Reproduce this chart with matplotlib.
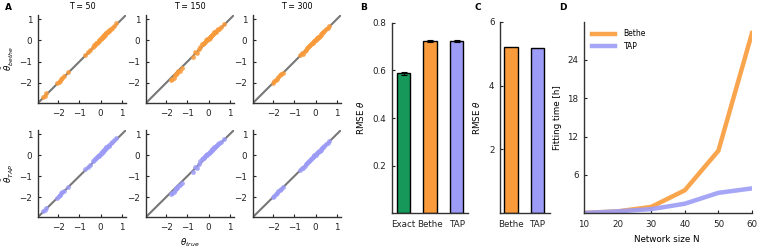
import matplotlib.pyplot as plt

# colours
orange = '#f99b3b'
purple = '#9c9cf7'
green = '#16985a'

Ts = [50, 150, 300]

# true couplings per T and the fitted values
true_50 = [-2.72, -2.6, -2.55, -2.05, -1.98, -1.92, -1.85, -1.8, -1.72, -1.55,
           -0.72, -0.6, -0.5, -0.35, -0.3, -0.25, -0.2, -0.15, -0.12, -0.08,
           -0.05, 0.0, 0.03, 0.06, 0.1, 0.12, 0.15, 0.18, 0.2, 0.22,
           0.25, 0.28, 0.3, 0.35, 0.38, 0.42, 0.48, 0.55, 0.62, 0.75]
bethe_50 = [-2.68, -2.62, -2.5, -2.0, -1.95, -1.9, -1.8, -1.78, -1.7, -1.5,
            -0.68, -0.55, -0.45, -0.3, -0.22, -0.2, -0.12, -0.1, -0.05, -0.02,
            0.02, 0.05, 0.1, 0.12, 0.15, 0.2, 0.22, 0.25, 0.28, 0.3,
            0.35, 0.36, 0.4, 0.42, 0.45, 0.5, 0.55, 0.6, 0.68, 0.82]
tap_50 = [-2.66, -2.6, -2.52, -2.02, -1.94, -1.9, -1.82, -1.76, -1.7, -1.52,
          -0.66, -0.56, -0.46, -0.3, -0.24, -0.18, -0.14, -0.1, -0.06, -0.02,
          0.02, 0.06, 0.08, 0.13, 0.16, 0.18, 0.23, 0.26, 0.27, 0.31,
          0.33, 0.37, 0.39, 0.43, 0.46, 0.49, 0.56, 0.62, 0.7, 0.8]

true_150 = [-1.78, -1.72, -1.65, -1.6, -1.55, -1.48, -1.42, -1.35, -1.25,
            -0.75, -0.62, -0.55, -0.45, -0.38, -0.3, -0.25, -0.2, -0.15, -0.1,
            -0.08, -0.05, 0.0, 0.02, 0.05, 0.08, 0.1, 0.12, 0.15, 0.18, 0.2,
            0.25, 0.28, 0.3, 0.35, 0.4, 0.45, 0.5, 0.6, 0.72]
bethe_150 = [-1.88, -1.8, -1.75, -1.62, -1.6, -1.55, -1.45, -1.42, -1.3,
             -0.8, -0.55, -0.58, -0.38, -0.3, -0.18, -0.15, -0.1, -0.05, 0.0,
             0.02, 0.05, 0.08, 0.12, 0.12, 0.18, 0.2, 0.22, 0.25, 0.28, 0.3,
             0.33, 0.38, 0.4, 0.42, 0.48, 0.52, 0.56, 0.65, 0.78]
tap_150 = [-1.86, -1.82, -1.74, -1.64, -1.58, -1.56, -1.46, -1.4, -1.32,
           -0.78, -0.56, -0.6, -0.4, -0.28, -0.2, -0.14, -0.12, -0.04, 0.0,
           0.03, 0.04, 0.09, 0.1, 0.14, 0.17, 0.21, 0.2, 0.26, 0.29, 0.31,
           0.34, 0.37, 0.41, 0.44, 0.47, 0.53, 0.57, 0.64, 0.77]

true_300 = [-2.02, -1.95, -1.88, -1.8, -1.75, -1.68, -1.62, -1.55,
            -0.72, -0.65, -0.6, -0.52, -0.45, -0.4, -0.35, -0.3, -0.25, -0.2,
            -0.15, -0.12, -0.08, -0.05, 0.0, 0.03, 0.06, 0.1, 0.13, 0.16,
            0.2, 0.24, 0.28, 0.32, 0.36, 0.42, 0.5, 0.58, 0.65]
bethe_300 = [-2.0, -1.92, -1.85, -1.82, -1.72, -1.65, -1.58, -1.52,
             -0.7, -0.6, -0.62, -0.48, -0.44, -0.36, -0.33, -0.26, -0.22, -0.16,
             -0.12, -0.1, -0.04, -0.02, 0.03, 0.05, 0.1, 0.12, 0.16, 0.18,
             0.22, 0.25, 0.3, 0.33, 0.38, 0.45, 0.52, 0.6, 0.66]
tap_300 = [-2.01, -1.93, -1.86, -1.8, -1.73, -1.66, -1.6, -1.53,
           -0.69, -0.62, -0.6, -0.5, -0.43, -0.37, -0.32, -0.27, -0.21, -0.17,
           -0.13, -0.09, -0.05, -0.01, 0.02, 0.06, 0.09, 0.13, 0.15, 0.19,
           0.21, 0.26, 0.29, 0.34, 0.37, 0.44, 0.53, 0.59, 0.67]

true_vals = [true_50, true_150, true_300]
bethe_vals = [bethe_50, bethe_150, bethe_300]
tap_vals = [tap_50, tap_150, tap_300]

# panel B
methods_b = ['Exact', 'Bethe', 'TAP']
rmse_b = [0.587, 0.723, 0.722]
err_b = [0.005, 0.004, 0.004]

# panel C
methods_c = ['Bethe', 'TAP']
rmse_c = [5.21, 5.19]

# panel D
network_size = [10, 20, 30, 40, 50, 60]
time_bethe = [0.05, 0.3, 1.0, 3.6, 9.8, 28.2]
time_tap = [0.05, 0.3, 0.65, 1.5, 3.2, 3.9]

W, H = 761.0, 250.0
fs = 6.3


def px_axes(fig, left, top, right, bottom):
    return fig.add_axes([left / W, 1 - bottom / H, (right - left) / W,
                         (bottom - top) / H])


def style(ax):
    for s in ['top', 'right']:
        ax.spines[s].set_visible(False)
    for s in ['left', 'bottom']:
        ax.spines[s].set_color('#333333')
        ax.spines[s].set_linewidth(1.0)
    ax.tick_params(labelsize=fs, length=2, width=0.8, direction='in',
                   pad=4, colors='#222222')


def label(x, y, text, rot=0, **kw):
    fig.text(x / W, 1 - y / H, text, rotation=rot, ha='center',
             va='center', fontsize=fs, **kw)


fig = plt.figure(figsize=(W / 100, H / 100), dpi=100)

cols = [(38, 126), (146, 234), (253, 341)]
rows = [(15, 103), (130, 217)]
lim = (-2.95, 1.2)

for r, (top, bottom) in enumerate(rows):
    for c, (left, right) in enumerate(cols):
        ax = px_axes(fig, left, top, right, bottom)
        style(ax)
        ax.plot(lim, lim, color='#777777', lw=1.5, zorder=1)
        est = bethe_vals[c] if r == 0 else tap_vals[c]
        col = orange if r == 0 else purple
        ax.scatter(true_vals[c], est, s=12, color=col, alpha=0.85,
                   lw=0, zorder=2)
        ax.set_xlim(lim)
        ax.set_ylim(lim)
        ax.set_xticks([-2, -1, 0, 1])
        ax.set_yticks([-2, -1, 0, 1])
        if r == 0:
            ax.set_title('T = %d' % Ts[c], fontsize=5.8, pad=4)

label(8, 59, r'$\hat{\theta}_{bethe}$', rot=90)
label(8, 173, r'$\hat{\theta}_{TAP}$', rot=90)
label(190, 243, r'$\theta_{true}$')

# panel B
axb = px_axes(fig, 391.7, 22.7, 468, 213.3)
style(axb)
axb.bar(range(3), rmse_b, width=0.5, color=[green, orange, purple],
        edgecolor='black', lw=1.0, yerr=err_b, capsize=2,
        error_kw=dict(lw=0.8, capthick=0.8))
axb.set_xlim(-0.45, 2.43)
axb.set_ylim(0, 0.8)
axb.set_yticks([0.2, 0.4, 0.6, 0.8])
axb.set_xticks(range(3))
axb.set_xticklabels(methods_b)
axb.tick_params(axis='x', length=0, pad=5)
label(361, 118, r'RMSE $\theta$', rot=90)

# panel C
axc = px_axes(fig, 500, 21.7, 550, 213.3)
style(axc)
axc.bar(range(2), rmse_c, width=0.5, color=[orange, purple],
        edgecolor='black', lw=1.0)
axc.set_xlim(-0.42, 1.48)
axc.set_ylim(0, 6)
axc.set_yticks([2, 4, 6])
axc.set_xticks(range(2))
axc.set_xticklabels(methods_c)
axc.tick_params(axis='x', length=0, pad=5)
label(477, 118, r'RMSE $\theta$', rot=90)

# panel D
axd = px_axes(fig, 584, 21.6, 752, 213.3)
style(axd)
axd.plot(network_size, time_bethe, color=orange, lw=3.2, alpha=0.9,
         label='Bethe')
axd.plot(network_size, time_tap, color=purple, lw=3.2, alpha=0.9,
         label='TAP')
axd.set_xlim(10, 60)
axd.set_ylim(0, 30)
axd.set_yticks([6, 12, 18, 24])
axd.set_xticks(network_size)
axd.tick_params(axis='x', pad=5)
label(667, 239, 'Network size N')
label(557, 118, 'Fitting time [h]', rot=90)
axd.legend(loc='upper left', frameon=False, fontsize=5.5,
           handlelength=3.0, borderaxespad=0.6, labelspacing=0.5,
           handletextpad=1.2)

for lbl, x, y in [('A', 8, 8), ('B', 364, 7), ('C', 478, 7), ('D', 563, 7)]:
    fig.text(x / W, 1 - y / H, lbl, fontsize=6.5, fontweight='bold',
             ha='center', va='center')

fig.savefig('out.png', dpi=100)
